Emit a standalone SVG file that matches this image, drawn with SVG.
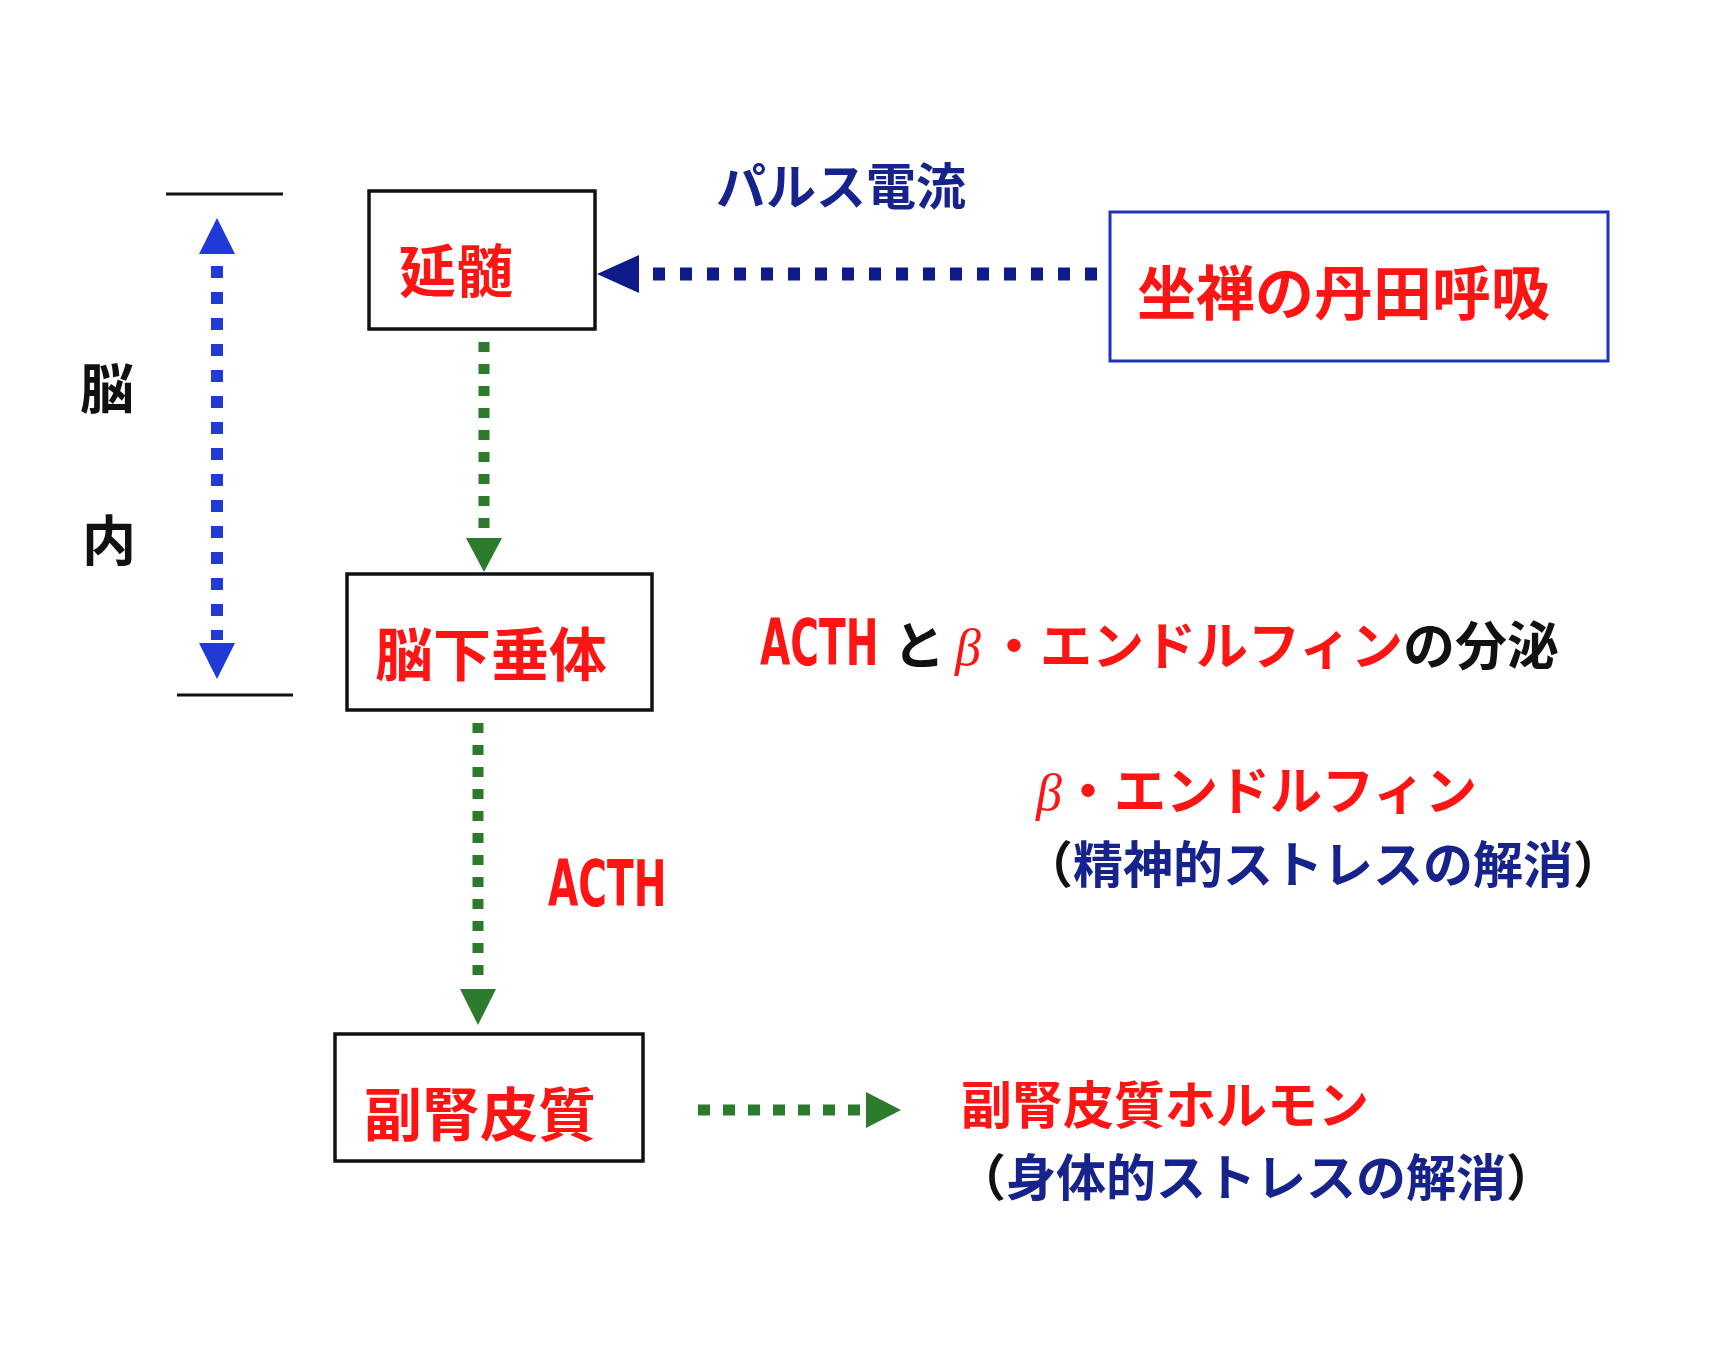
<svg xmlns="http://www.w3.org/2000/svg" width="1732" height="1351" viewBox="0 0 1732 1351">
<style>
.box{fill:#fff;stroke:#111;stroke-width:3.5}
.jp{font-family:"Noto Sans CJK JP","Noto Sans CJK SC",sans-serif;font-weight:700}
.red{fill:#ff1414}
.navy{fill:#17238c}
.blk{fill:#111}
.lat{font-family:"Liberation Sans Narrow","DejaVu Sans Condensed","Liberation Sans",sans-serif;font-weight:700}
.beta{font-family:"Liberation Serif",serif;font-style:italic;font-weight:400}
.gdash{stroke:#2c7a2c;stroke-width:11;fill:none}
</style>
<rect width="1732" height="1351" fill="#fff"/>
<g id="brain-label">
<line x1="166" y1="194" x2="283" y2="194" stroke="#111" stroke-width="3"/>
<line x1="177" y1="695" x2="293" y2="695" stroke="#111" stroke-width="3"/>
<text class="jp blk" x="80" y="409" font-size="54">脳</text>
<text class="jp blk" x="82" y="561" font-size="54">内</text>
</g>
<g id="node-enzui">
<rect class="box" x="369" y="191" width="226" height="138"/>
<text class="jp red" x="399" y="292" font-size="57">延髄</text>
</g>
<g id="node-zazen">
<rect x="1110" y="212" width="498" height="149" fill="#fff" stroke="#2233bb" stroke-width="3"/>
<text class="jp red" x="1137" y="315" font-size="59">坐禅の丹田呼吸</text>
</g>
<g id="node-kasuitai">
<rect class="box" x="347" y="574" width="305" height="136"/>
<text class="jp red" x="375" y="676" font-size="58">脳下垂体</text>
</g>
<g id="node-fukujin">
<rect class="box" x="335" y="1034" width="308" height="127"/>
<text class="jp red" x="364" y="1136" font-size="58">副腎皮質</text>
</g>
<g id="labels">
<text class="jp navy" x="716" y="205" font-size="50">パルス電流</text>
<text class="lat red" transform="translate(760,665) scale(0.68,1)" font-size="64">ACTH</text>
<text class="jp blk" x="893" y="665" font-size="52">と</text>
<text class="beta red" x="955" y="665" font-size="52">β</text>
<text class="jp red" x="988" y="665" font-size="52">・エンドルフィン<tspan class="blk">の分泌</tspan></text>
<text class="beta red" x="1036" y="810" font-size="52">β</text>
<text class="jp red" x="1062" y="810" font-size="52">・エンドルフィン</text>
<text class="jp blk" x="1023" y="883" font-size="50">（<tspan class="navy">精神的ストレスの解消</tspan>）</text>
<text class="lat red" transform="translate(548,906) scale(0.68,1)" font-size="64">ACTH</text>
<text class="jp red" x="961" y="1124" font-size="51">副腎皮質ホルモン</text>
<text class="jp blk" x="956" y="1196" font-size="50">（<tspan class="navy">身体的ストレスの解消</tspan>）</text>
</g>
<g id="connectors">
<line x1="217" y1="266" x2="217" y2="640" stroke="#1f3ad6" stroke-width="12" stroke-dasharray="12 14"/>
<polygon points="217,218 199,254 235,254" fill="#1f3ad6"/>
<polygon points="217,679 199,643 235,643" fill="#1f3ad6"/>
<line x1="1097" y1="274" x2="642" y2="274" stroke="#0e1a8a" stroke-width="13" stroke-dasharray="12 15"/>
<polygon points="597,274 639,255 639,293" fill="#0e1a8a"/>
<line class="gdash" x1="484" y1="342" x2="484" y2="536" stroke-dasharray="10 12"/>
<polygon points="484,572 466,538 502,538" fill="#2c7a2c"/>
<line class="gdash" x1="478" y1="723" x2="478" y2="987" stroke-dasharray="10 12"/>
<polygon points="478,1025 460,989 496,989" fill="#2c7a2c"/>
<line class="gdash" x1="698" y1="1110" x2="867" y2="1110" stroke-dasharray="12 13"/>
<polygon points="901,1110 866,1092 866,1128" fill="#2c7a2c"/>
</g>
</svg>
